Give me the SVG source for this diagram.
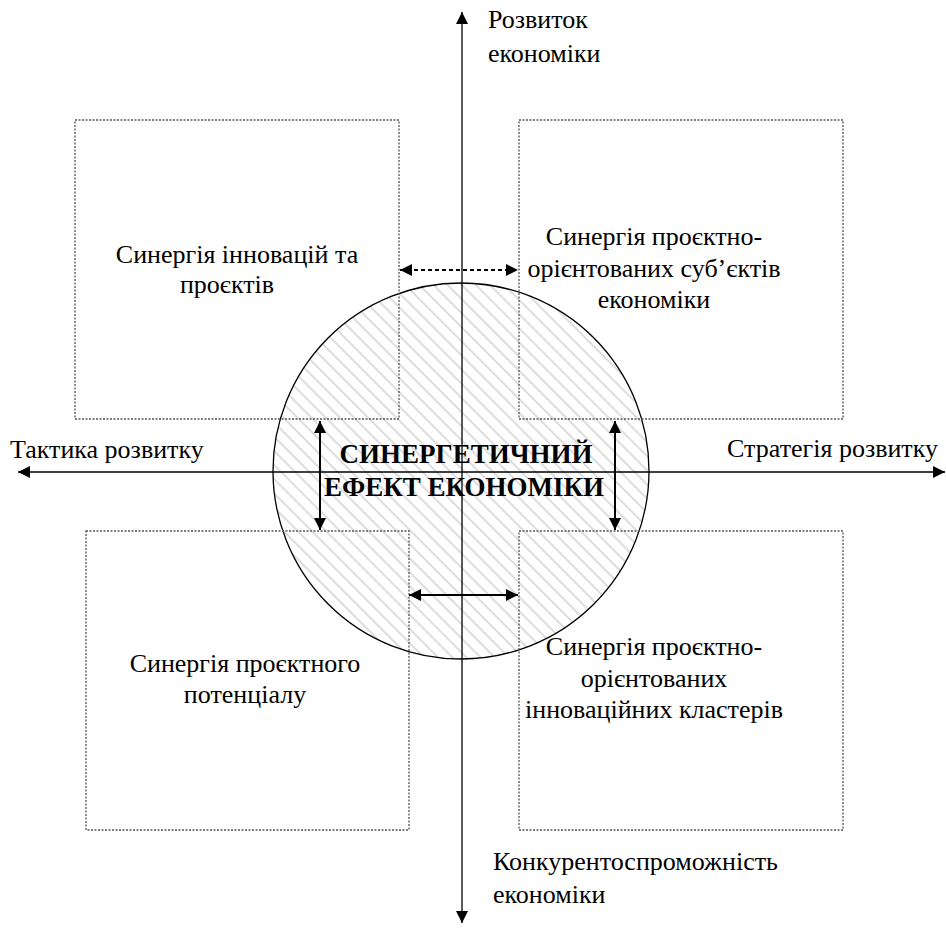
<svg xmlns="http://www.w3.org/2000/svg" width="946" height="933" viewBox="0 0 946 933">
<defs>
<style>
.m{text-anchor:middle}
.b{font-weight:bold;font-size:27px}
.box{fill:none;stroke:#555;stroke-width:1.3;stroke-dasharray:2,1.5}
.ax{stroke:#000;stroke-width:1.3;fill:none}
.arr{stroke:#000;stroke-width:2;fill:none}
</style>
<pattern id="hatch" width="10" height="10" patternUnits="userSpaceOnUse" patternTransform="rotate(45)">
<line x1="0" y1="5" x2="10" y2="5" stroke="#bbb" stroke-width="1"/>
</pattern>
<marker id="ah" viewBox="0 0 10 10" refX="10" refY="5" markerWidth="14" markerHeight="12" markerUnits="userSpaceOnUse" orient="auto-start-reverse">
<path d="M0,0 L10,5 L0,10 z" fill="#000"/>
</marker>
</defs>
<rect width="946" height="933" fill="#fff"/>
<g id="circle">
<circle cx="461" cy="471" r="188" fill="url(#hatch)" stroke="#000" stroke-width="1.3"/>
</g>
<g id="connectors">
<line class="ax" x1="462" y1="923" x2="462" y2="12" marker-start="url(#ah)" marker-end="url(#ah)"/>
<line class="ax" x1="18" y1="472" x2="945" y2="472" marker-start="url(#ah)" marker-end="url(#ah)"/>
<line class="arr" x1="400" y1="270" x2="518" y2="270" stroke-dasharray="4,3" stroke-width="2.5" marker-start="url(#ah)" marker-end="url(#ah)"/>
<line class="arr" x1="409" y1="595" x2="518" y2="595" marker-start="url(#ah)" marker-end="url(#ah)"/>
<line class="arr" x1="320" y1="421" x2="320" y2="530" marker-start="url(#ah)" marker-end="url(#ah)"/>
<line class="arr" x1="615" y1="421" x2="615" y2="530" marker-start="url(#ah)" marker-end="url(#ah)"/>
</g>
<g font-family="Liberation Serif, Times New Roman, Tinos, Noto Serif, DejaVu Serif, serif" font-size="26" fill="#000">
<g id="box-tl">
<rect class="box" x="75" y="120" width="324" height="299"/>
<text class="m" x="237" y="263">Синергія інновацій та</text>
<text class="m" x="227" y="293">проєктів</text>
</g>
<g id="box-tr">
<rect class="box" x="519" y="120" width="324" height="299"/>
<text class="m" x="654" y="245">Синергія проєктно-</text>
<text class="m" x="654" y="277">орієнтованих суб’єктів</text>
<text class="m" x="654" y="308">економіки</text>
</g>
<g id="box-bl">
<rect class="box" x="86" y="531" width="323" height="299"/>
<text class="m" x="245" y="672">Синергія проєктного</text>
<text class="m" x="245" y="703">потенціалу</text>
</g>
<g id="box-br">
<rect class="box" x="519" y="531" width="324" height="299"/>
<text class="m" x="654" y="655">Синергія проєктно-</text>
<text class="m" x="654" y="687">орієнтованих</text>
<text class="m" x="654" y="718">інноваційних кластерів</text>
</g>
<g id="center">
<text class="b m" x="466" y="463">СИНЕРГЕТИЧНИЙ</text>
<text class="b m" x="464" y="496">ЕФЕКТ ЕКОНОМІКИ</text>
</g>
<g id="labels">
<text x="488" y="28">Розвиток</text>
<text x="488" y="62">економіки</text>
<text x="10" y="458">Тактика розвитку</text>
<text x="938" y="457" text-anchor="end">Стратегія розвитку</text>
<text x="493" y="870">Конкурентоспроможність</text>
<text x="493" y="903">економіки</text>
</g>
</g>
</svg>
